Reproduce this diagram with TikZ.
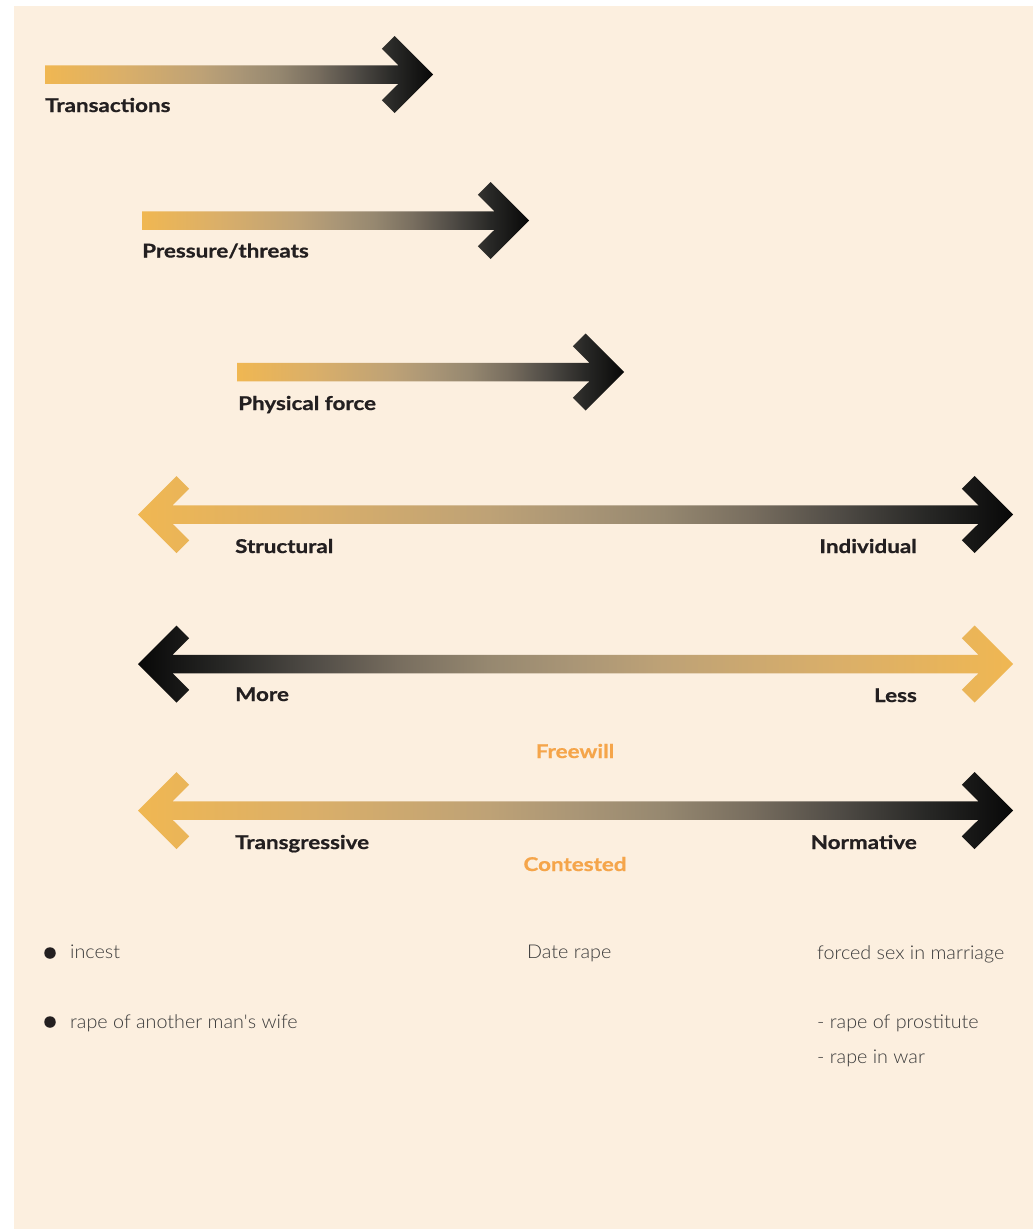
\documentclass[tikz,border=0pt]{standalone}
\usepackage{fontspec}
\setmainfont{Lato}
\newfontfamily\labfont{Lato}[FakeStretch=1.18, FakeBold=0.8]
\newfontfamily\itemfont{Lato Light}[FakeStretch=1.04]
\definecolor{bgpeach}{HTML}{FCEFDF}
\definecolor{labdark}{HTML}{231F20}
\definecolor{txtgray}{HTML}{3A3A3A}
\definecolor{accent}{HTML}{F5A54A}
\pgfdeclarehorizontalshading{orangetoblack}{100bp}{%
  rgb(0bp)=(0.941,0.718,0.322); rgb(25bp)=(0.941,0.718,0.322);
  rgb(35bp)=(0.855,0.686,0.412); rgb(45bp)=(0.745,0.635,0.463);
  rgb(50bp)=(0.667,0.588,0.463); rgb(55bp)=(0.588,0.533,0.439);
  rgb(60bp)=(0.471,0.431,0.373); rgb(65bp)=(0.314,0.298,0.275);
  rgb(70bp)=(0.157,0.157,0.149); rgb(75bp)=(0.031,0.031,0.031);
  rgb(100bp)=(0.031,0.031,0.031)}
\pgfdeclarehorizontalshading{blacktoorange}{100bp}{%
  rgb(0bp)=(0.031,0.031,0.031); rgb(25bp)=(0.031,0.031,0.031);
  rgb(30bp)=(0.157,0.157,0.149); rgb(35bp)=(0.314,0.298,0.275);
  rgb(40bp)=(0.471,0.431,0.373); rgb(45bp)=(0.588,0.533,0.439);
  rgb(50bp)=(0.667,0.588,0.463); rgb(55bp)=(0.745,0.635,0.463);
  rgb(65bp)=(0.855,0.686,0.412); rgb(75bp)=(0.941,0.718,0.322);
  rgb(100bp)=(0.941,0.718,0.322)}
\tikzset{
  otob/.style={shading=orangetoblack},
  btoo/.style={shading=blacktoorange},
  lab/.style={inner sep=0pt, text=labdark, font=\labfont\fontsize{19}{22}\selectfont\bfseries},
  labL/.style={lab, anchor=base west},
  labR/.style={lab, anchor=base east},
  accentlab/.style={inner sep=0pt, text=accent, anchor=base, font=\labfont\fontsize{19}{22}\selectfont\bfseries},
  item/.style={inner sep=0pt, text=txtgray, anchor=base west, font=\itemfont\fontsize{19}{22}\selectfont},
  bullet/.style={circle, fill=labdark, inner sep=0pt, minimum size=11.5pt}
}
% right arrow: #1 x start, #2 tip x, #3 centre y, #4 shading style
\newcommand\myRArrow[4]{%
  \shade[#4] (#1,{#3-9.25}) -- ({#2-34.5},{#3-9.25}) -- ({#2-51.2},{#3-25.8}) -- ({#2-38.5},{#3-38.5})
    -- (#2,#3) -- ({#2-38.5},{#3+38.5}) -- ({#2-51.2},{#3+25.8}) -- ({#2-34.5},{#3+9.25}) -- (#1,{#3+9.25}) -- cycle;}
% double arrow: #1 left tip, #2 right tip, #3 centre y, #4 shading
\newcommand\myDArrow[4]{%
  \shade[#4] ({#1+34.5},{#3-9.25}) -- ({#2-34.5},{#3-9.25}) -- ({#2-51.2},{#3-25.8}) -- ({#2-38.5},{#3-38.5})
    -- (#2,#3) -- ({#2-38.5},{#3+38.5}) -- ({#2-51.2},{#3+25.8}) -- ({#2-34.5},{#3+9.25})
    -- ({#1+34.5},{#3+9.25}) -- ({#1+51.2},{#3+25.8}) -- ({#1+38.5},{#3+38.5}) -- (#1,#3)
    -- ({#1+38.5},{#3-38.5}) -- ({#1+51.2},{#3-25.8}) -- cycle;}
\begin{document}
\begin{tikzpicture}[x=1pt,y=-1pt]
\useasboundingbox (0,0) rectangle (1033,1229);
\fill[white] (0,0) rectangle (1033,1229);
\fill[bgpeach] (14,6) rectangle (1033,1229);

\myRArrow{45}{433}{74.5}{otob}
\myRArrow{142}{529}{220.5}{otob}
\myRArrow{237}{624}{372}{otob}
\myDArrow{138}{1013}{514.5}{otob}
\myDArrow{138}{1013}{664}{btoo}
\myDArrow{138}{1013}{810.5}{otob}

\node[labL] (transactions) at (45,112) {Transactions};
\node[labL] (pressure) at (142,257.5) {Pressure/threats};
\node[labL] (physical) at (238,410) {Physical force};
\node[labL] (structural) at (235,553) {Structural};
\node[labR] (individual) at (917,553) {Individual};
\node[labL] (more) at (235,701) {More};
\node[labR] (less) at (917,702) {Less};
\node[accentlab] (freewill) at (575,758) {Freewill};
\node[labL] (transgressive) at (235,849) {Transgressive};
\node[labR] (normative) at (917,849) {Normative};
\node[accentlab] (contested) at (575,871) {Contested};

\node[bullet] (b1) at (50,953) {};
\node[bullet] (b2) at (50,1022) {};
\node[item] (incest) at (70,958) {incest};
\node[item] (wife) at (70,1028) {rape of another man's wife};
\node[item] (daterape) at (527,958) {Date rape};
\node[item] (marriage) at (817,959) {forced sex in marriage};
\node[item] (prostitute) at (817,1028) {- rape of prostitute};
\node[item] (war) at (817,1063) {- rape in war};
\end{tikzpicture}
\end{document}
